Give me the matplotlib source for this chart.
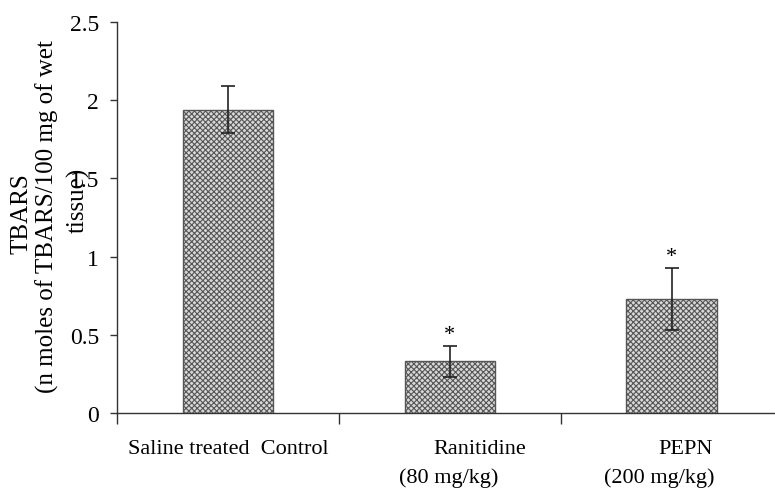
import matplotlib
matplotlib.use("Agg")
import matplotlib.pyplot as plt

categories = ["Saline treated  Control", "Ranitidine", "PEPN"]
doses = ["", "(80 mg/kg)", "(200 mg/kg)"]
values = [1.94, 0.33, 0.73]
errors = [0.15, 0.10, 0.20]
stars = ["", "*", "*"]
yticks = [0, 0.5, 1, 1.5, 2, 2.5]
ytick_labels = ["0", "0.5", "1", "1.5", "2", "2.5"]

plt.rcParams['font.family'] = ['Liberation Serif', 'DejaVu Serif']
plt.rcParams['hatch.linewidth'] = 0.8

fig = plt.figure(figsize=(7.75, 4.89), dpi=100)
ax = fig.add_axes([117/775, 1-414/489, 1-117/775, (414-23)/489])

x = list(range(len(values)))
ax.bar(x, values, width=0.407, color='#d8d8d8', edgecolor='#555555',
       hatch='xxxxxx', linewidth=1.0, zorder=2)
ax.errorbar(x, values, yerr=errors, fmt='none', ecolor='#222222',
            elinewidth=1.2, capsize=5, capthick=1.2, zorder=3)

for xi, v, e, s in zip(x, values, errors, stars):
    if s:
        ax.text(xi, v + e + 0.01, s, ha='center', va='bottom', fontsize=16)

ax.set_xlim(-0.5, 2.466)
ax.set_ylim(0, 2.5)
ax.spines['top'].set_visible(False)
ax.spines['right'].set_visible(False)
for sp in ['left', 'bottom']:
    ax.spines[sp].set_color('#333333')
    ax.spines[sp].set_linewidth(1.0)

ax.set_yticks(yticks)
ax.set_yticklabels(ytick_labels, fontsize=17)
ax.tick_params(axis='y', direction='out', length=5, width=1, color='#333333', pad=8)

ax.set_xticks([-0.5, 0.5, 1.5])
ax.set_xticklabels([])
ax.tick_params(axis='x', direction='out', length=8, width=1, color='#333333')

# category labels
name_x = [0.0, 1.136, 2.063]
dose_x = [0, 0.995, 1.946]
for nx, name in zip(name_x, categories):
    ax.text(nx, -0.092, name, ha='center', va='center', fontsize=16,
            transform=ax.get_xaxis_transform())
for dx, d in zip(dose_x, doses):
    if d:
        ax.text(dx, -0.164, d, ha='center', va='center', fontsize=16,
                transform=ax.get_xaxis_transform())

fig.text(22/775, 1-214/489, "TBARS", rotation=90, ha='center', va='center', fontsize=18)
fig.text(47/775, 1-217/489, "(n moles of TBARS/100 mg of wet", rotation=90,
         ha='center', va='center', fontsize=18)
fig.text(78/775, 1-200/489, "tissue)", rotation=90, ha='center', va='center', fontsize=18)

fig.savefig("out.png", dpi=100)
